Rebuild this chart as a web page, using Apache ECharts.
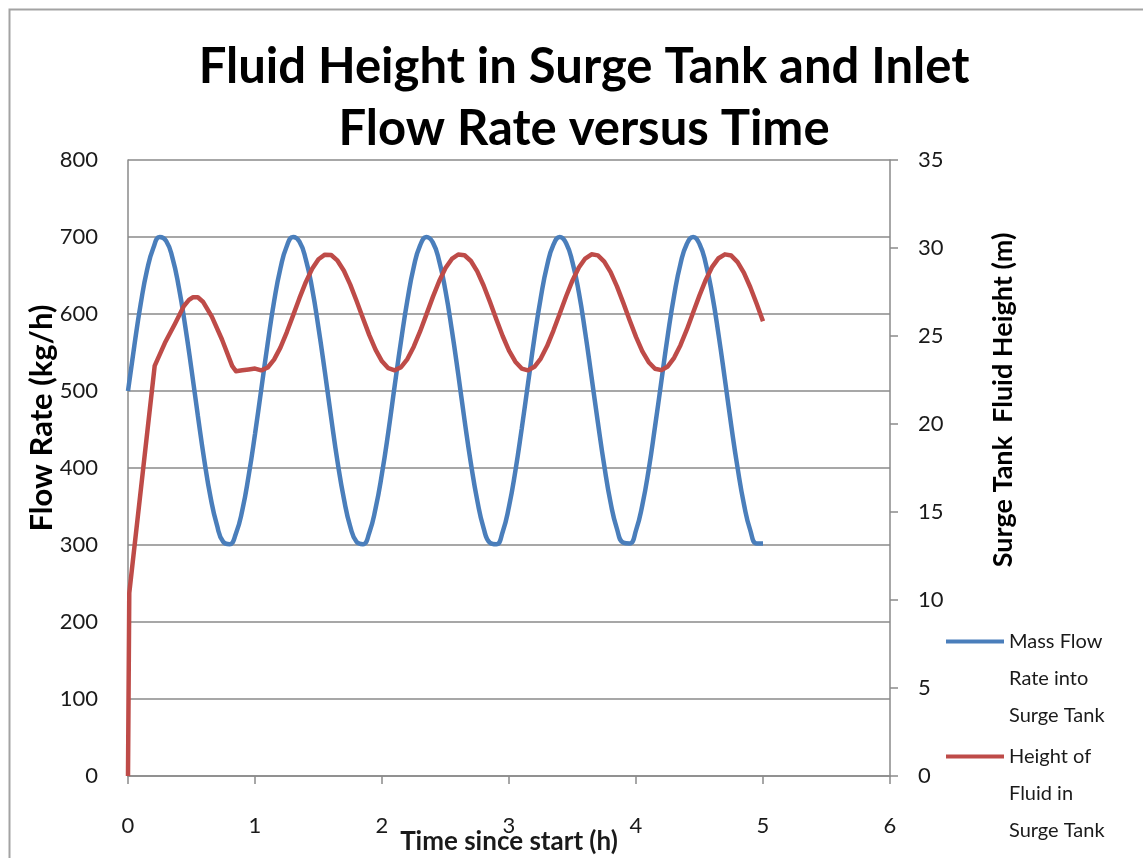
<!DOCTYPE html>
<html>
<head>
<meta charset="utf-8">
<script src="https://cdn.jsdelivr.net/npm/echarts@6/dist/echarts.min.js"></script>
<style>
html,body{margin:0;padding:0;background:#fff;}
#chart{width:1143px;height:858px;}
</style>
</head>
<body>
<div id="chart"></div>
<script>
// ---- Data ----
const titleText = 'Fluid Height in Surge Tank and Inlet\nFlow Rate versus Time';
const xAxisName = 'Time since start (h)';
const leftAxisName = 'Flow Rate (kg/h)';
const rightAxisName = 'Surge Tank  Fluid Height (m)';
const seriesNames = ['Mass Flow Rate into Surge Tank', 'Height of Fluid in Surge Tank'];
const legendLabels = ['Mass Flow\nRate into\nSurge Tank', 'Height of\nFluid in\nSurge Tank'];

const flowTime = [0,0.05,0.1,0.15,0.2,0.25,0.3,0.35,0.4,0.45,0.5,0.55,0.6,0.65,0.7,0.75,0.8,0.85,0.9,0.95,
  1,1.05,1.1,1.15,1.2,1.25,1.3,1.35,1.4,1.45,1.5,1.55,1.6,1.65,1.7,1.75,1.8,1.85,1.9,1.95,
  2,2.05,2.1,2.15,2.2,2.25,2.3,2.35,2.4,2.45,2.5,2.55,2.6,2.65,2.7,2.75,2.8,2.85,2.9,2.95,
  3,3.05,3.1,3.15,3.2,3.25,3.3,3.35,3.4,3.45,3.5,3.55,3.6,3.65,3.7,3.75,3.8,3.85,3.9,3.95,
  4,4.05,4.1,4.15,4.2,4.25,4.3,4.35,4.4,4.45,4.5,4.55,4.6,4.65,4.7,4.75,4.8,4.85,4.9,4.95,5];
const flowRate = [500,559,613,657,686,700,695,673,635,585,528,468,411,362,326,304,301,315,345,390,
  444,503,562,616,659,688,700,694,671,633,582,525,465,408,360,324,304,301,316,348,
  393,447,507,565,618,661,689,700,693,669,630,579,522,462,406,358,322,303,301,317,
  350,396,451,510,569,621,663,690,700,692,667,628,576,518,459,403,355,321,303,302,
  319,352,398,454,513,572,624,665,691,700,691,665,625,573,515,455,400,353,319,302,302];

const heightTime = [0,0.01,0.21,0.29,0.37,0.44,0.48,0.51,0.55,0.59,0.66,0.74,0.82,0.85,0.9,0.95,
  1,1.05,1.1,1.15,1.2,1.25,1.3,1.35,1.4,1.45,1.5,1.55,1.6,1.65,1.7,1.75,1.8,1.85,1.9,1.95,
  2,2.05,2.1,2.15,2.2,2.25,2.3,2.35,2.4,2.45,2.5,2.55,2.6,2.65,2.7,2.75,2.8,2.85,2.9,2.95,
  3,3.05,3.1,3.15,3.2,3.25,3.3,3.35,3.4,3.45,3.5,3.55,3.6,3.65,3.7,3.75,3.8,3.85,3.9,3.95,
  4,4.05,4.1,4.15,4.2,4.25,4.3,4.35,4.4,4.45,4.5,4.55,4.6,4.65,4.7,4.75,4.8,4.85,4.9,4.95,5];
const fluidHeight = [0,10.4,23.3,24.6,25.7,26.7,27.05,27.2,27.2,26.95,26.1,24.8,23.3,23.0,23.05,23.1,
  23.15,23.05,23.21,23.66,24.34,25.21,26.17,27.15,28.06,28.82,29.36,29.62,29.60,29.28,28.71,27.92,26.99,26.01,25.05,24.21,
  23.56,23.17,23.05,23.23,23.69,24.39,25.26,26.23,27.21,28.11,28.86,29.38,29.63,29.59,29.26,28.67,27.87,26.94,25.95,25.00,
  24.17,23.54,23.15,23.05,23.25,23.72,24.43,25.31,26.28,27.26,28.16,28.89,29.40,29.64,29.58,29.23,28.63,27.82,26.88,25.90,
  24.95,24.13,23.51,23.14,23.06,23.27,23.76,24.48,25.36,26.34,27.31,28.20,28.93,29.42,29.64,29.57,29.20,28.59,27.77,26.83,25.84];

// ---- Build chart ----
const FONT = 'Lato';
const TXT = '#1a1a1a';
const AXIS_GRAY = '#8a8a8a';
const BLUE = '#4a7ebb';
const RED = '#be4b48';
const legendIcon = 'path://M0,0L58,0L58,4L0,4Z M0,77.9L0.1,77.9L0.1,78L0,78Z';

const flowData = flowTime.map((t, i) => [t, flowRate[i]]);
const heightData = heightTime.map((t, i) => [t, fluidHeight[i]]);

function legendFor(idx, top) {
  return {
    orient: 'vertical',
    left: 941,
    top: top,
    itemWidth: 58,
    itemHeight: 78,
    icon: legendIcon,
    data: [seriesNames[idx]],
    formatter: function (name) { return legendLabels[seriesNames.indexOf(name)]; },
    textStyle: {fontFamily: FONT, fontSize: 20, lineHeight: 37, color: TXT}
  };
}

const chart = echarts.init(document.getElementById('chart'), null, {renderer: 'canvas'});
chart.setOption({
  animation: false,
  backgroundColor: '#ffffff',
  textStyle: {fontFamily: FONT},
  title: {
    text: titleText,
    left: 579,
    top: 31,
    textAlign: 'center',
    textStyle: {fontFamily: FONT, fontWeight: 'bold', fontSize: 49, lineHeight: 62, color: '#000'}
  },
  grid: {left: 128, right: 253, top: 160, bottom: 82, containLabel: false, outerBoundsMode: 'none'},
  xAxis: {
    type: 'value', min: 0, max: 6, interval: 1,
    name: xAxisName, nameLocation: 'middle', nameGap: 53, nameMoveOverlap: false,
    nameTextStyle: {fontFamily: FONT, fontWeight: 'bold', fontSize: 26, color: TXT},
    axisLine: {show: true, lineStyle: {color: AXIS_GRAY, width: 1.5}},
    axisTick: {show: true, length: 8, lineStyle: {color: AXIS_GRAY, width: 1.5}},
    axisLabel: {margin: 39, fontSize: 22, color: TXT, fontFamily: FONT},
    splitLine: {show: false}
  },
  yAxis: [
    {
      type: 'value', min: 0, max: 800, interval: 100, position: 'left',
      axisLine: {show: true, lineStyle: {color: AXIS_GRAY, width: 1.5}},
      axisTick: {show: false},
      axisLabel: {margin: 30, fontSize: 22, color: TXT, fontFamily: FONT},
      splitLine: {show: true, lineStyle: {color: AXIS_GRAY, width: 1.5}}
    },
    {
      type: 'value', min: 0, max: 35, interval: 5, position: 'right',
      axisLine: {show: true, lineStyle: {color: AXIS_GRAY, width: 1.5}},
      axisTick: {show: true, length: 8, lineStyle: {color: AXIS_GRAY, width: 1.5}},
      axisLabel: {margin: 28, fontSize: 22, color: TXT, fontFamily: FONT},
      splitLine: {show: false}
    }
  ],
  legend: [legendFor(0, 618), legendFor(1, 733)],
  graphic: [
    {type: 'rect', left: 7, top: 7, shape: {width: 1200, height: 900}, style: {fill: 'none', stroke: '#a3a3a3', lineWidth: 2}, silent: true, z: -1},
    {type: 'text', x: 42, y: 418, rotation: Math.PI / 2, style: {text: leftAxisName, font: 'bold 31px Lato', fill: '#000', align: 'center', verticalAlign: 'middle'}},
    {type: 'text', x: 1003, y: 400, rotation: Math.PI / 2, style: {text: rightAxisName, font: 'bold 27px Lato', fill: '#000', align: 'center', verticalAlign: 'middle'}}
  ],
  series: [
    {
      name: seriesNames[0], type: 'line', yAxisIndex: 0, data: flowData,
      smooth: true, symbol: 'none', showSymbol: false,
      lineStyle: {color: BLUE, width: 4.5}, itemStyle: {color: BLUE}
    },
    {
      name: seriesNames[1], type: 'line', yAxisIndex: 1, data: heightData,
      smooth: false, symbol: 'none', showSymbol: false,
      lineStyle: {color: RED, width: 4.5, join: 'round'}, itemStyle: {color: RED}
    }
  ]
});
</script>
</body>
</html>
